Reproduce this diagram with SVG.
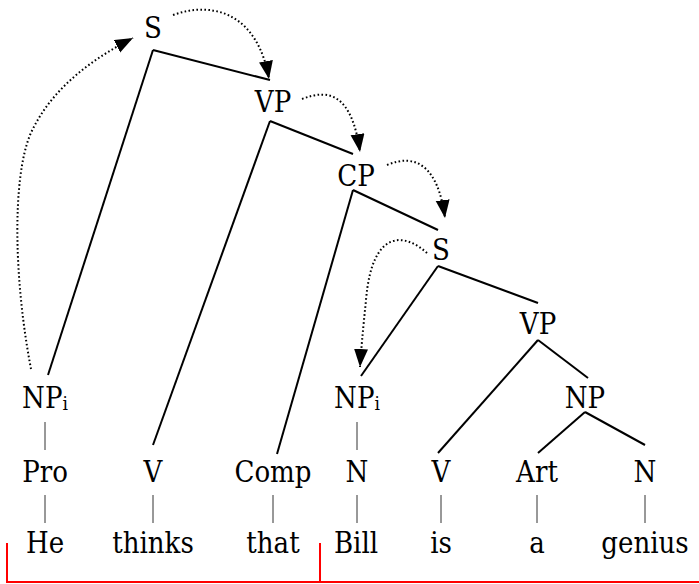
<svg xmlns="http://www.w3.org/2000/svg" width="699" height="584" viewBox="0 0 699 584">
<style>
text{font-family:'DejaVu Serif Condensed','DejaVu Serif',serif;font-stretch:condensed;font-size:29px;fill:#000;text-anchor:middle}
.e{stroke:#000;stroke-width:2;fill:none}
.b{stroke:#333;stroke-width:1;fill:none}
.d{stroke:#000;stroke-width:2;fill:none;stroke-dasharray:1.6 2.4}
.r{stroke:#f00;stroke-width:2;fill:none}
.sub{font-size:19px}
</style>
<defs>
<marker id="ah" markerUnits="userSpaceOnUse" markerWidth="20" markerHeight="16" refX="18" refY="7" orient="auto" viewBox="0 0 20 16">
<path d="M0,0 L18,7 L0,14 z" fill="#000"/>
</marker>
</defs>
<rect width="699" height="584" fill="#fff"/>
<g id="connectors">
<line class="e" x1="153" y1="50" x2="270" y2="80"/>
<line class="e" x1="153" y1="50" x2="48" y2="375"/>
<line class="e" x1="270" y1="121" x2="353" y2="154"/>
<line class="e" x1="270" y1="121" x2="153" y2="445"/>
<line class="e" x1="353" y1="190" x2="438" y2="230"/>
<line class="e" x1="353" y1="190" x2="277" y2="454"/>
<line class="e" x1="438" y1="266" x2="538" y2="303"/>
<line class="e" x1="438" y1="266" x2="361" y2="376"/>
<line class="e" x1="538" y1="340" x2="438" y2="453"/>
<line class="e" x1="538" y1="340" x2="588" y2="378"/>
<line class="e" x1="585" y1="412" x2="538" y2="453"/>
<line class="e" x1="585" y1="412" x2="645" y2="445"/>
<line class="b" x1="45" y1="422" x2="45" y2="450"/>
<line class="b" x1="357" y1="422" x2="357" y2="450"/>
<line class="b" x1="45" y1="495" x2="45" y2="523"/>
<line class="b" x1="153" y1="495" x2="153" y2="523"/>
<line class="b" x1="273" y1="495" x2="273" y2="523"/>
<line class="b" x1="357" y1="495" x2="357" y2="523"/>
<line class="b" x1="441" y1="495" x2="441" y2="523"/>
<line class="b" x1="537" y1="495" x2="537" y2="523"/>
<line class="b" x1="645" y1="495" x2="645" y2="523"/>
<path class="d" marker-end="url(#ah)" d="M31 369 C14 280,12 180,30 135 C50 90,90 60,133 38"/>
<path class="d" marker-end="url(#ah)" d="M173 15 C215 0,258 15,269 79"/>
<path class="d" marker-end="url(#ah)" d="M302 99 C330 88,352 95,360 152"/>
<path class="d" marker-end="url(#ah)" d="M387 165 C415 153,438 165,445 218"/>
<path class="d" marker-end="url(#ah)" d="M427 253 C405 233,372 228,366 300 C363 330,361 350,360 367"/>
<path class="r" d="M7 543 V582 H699 M320 543 V582"/>
</g>
<g id="S1"><text x="153" y="38">S</text></g>
<g id="VP1"><text x="273" y="112">VP</text></g>
<g id="CP"><text x="356" y="186">CP</text></g>
<g id="S2"><text x="441" y="260">S</text></g>
<g id="VP2"><text x="538" y="334">VP</text></g>
<g id="NPi1"><text x="45" y="408">NP<tspan class="sub" dy="2">i</tspan></text></g>
<g id="NPi2"><text x="357" y="408">NP<tspan class="sub" dy="2">i</tspan></text></g>
<g id="NP"><text x="585" y="408">NP</text></g>
<g id="Pro"><text x="45" y="482">Pro</text></g>
<g id="V1"><text x="153" y="482">V</text></g>
<g id="Comp"><text x="273" y="482">Comp</text></g>
<g id="N1"><text x="357" y="482">N</text></g>
<g id="V2"><text x="441" y="482">V</text></g>
<g id="Art"><text x="537" y="482">Art</text></g>
<g id="N2"><text x="645" y="482">N</text></g>
<g id="He"><text x="45" y="553">He</text></g>
<g id="thinks"><text x="153" y="553">thinks</text></g>
<g id="that"><text x="273" y="553">that</text></g>
<g id="Bill"><text x="356" y="553">Bill</text></g>
<g id="is"><text x="441" y="553">is</text></g>
<g id="a"><text x="537" y="553">a</text></g>
<g id="genius"><text x="645" y="553">genius</text></g>
</svg>
